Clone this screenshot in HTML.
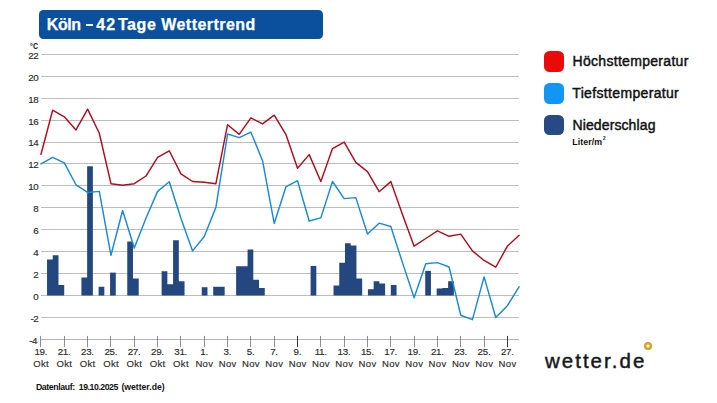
<!DOCTYPE html>
<html><head><meta charset="utf-8"><title>Köln – 42 Tage Wettertrend</title>
<style>
html,body{margin:0;padding:0;background:#fff;}
body{width:717px;height:403px;position:relative;overflow:hidden;font-family:"Liberation Sans",sans-serif;color:#333;}
#title{position:absolute;left:39.1px;top:10px;width:283.9px;height:28.6px;background:#0a509c;border-radius:4.5px;}
svg{position:absolute;left:0;top:0;}
.t{position:absolute;white-space:nowrap;}
.yl{position:absolute;left:10.4px;width:28px;text-align:right;font-size:9.8px;letter-spacing:-0.35px;line-height:11px;color:#2b2b2b;-webkit-text-stroke:0.15px #2b2b2b;}
.xl{position:absolute;top:345.9px;width:30px;text-align:center;font-size:9.5px;line-height:12.4px;color:#2b2b2b;-webkit-text-stroke:0.15px #2b2b2b;}
.mo{letter-spacing:0.35px;margin-right:-0.35px;}
.dy{font-size:9.8px;letter-spacing:-0.3px;margin-right:0.3px;}
.sq{position:absolute;left:544px;width:20.2px;height:20.4px;border-radius:5.5px;}
#dot{position:absolute;left:644.9px;top:342.8px;width:4.6px;height:4.6px;border:1.7px solid #dfa423;border-radius:50%;}
</style></head><body>
<div id="title"></div>
<div style="position:absolute;left:86.3px;top:23.7px;width:6.9px;height:2.2px;background:#fff"></div>
<svg width="717" height="403" viewBox="0 0 717 403">
<line x1="41" x2="519" y1="54.50" y2="54.50" stroke="#bdbdbd" stroke-width="1"/>
<line x1="41" x2="519" y1="76.50" y2="76.50" stroke="#bdbdbd" stroke-width="1"/>
<line x1="41" x2="519" y1="98.50" y2="98.50" stroke="#bdbdbd" stroke-width="1"/>
<line x1="41" x2="519" y1="120.50" y2="120.50" stroke="#bdbdbd" stroke-width="1"/>
<line x1="41" x2="519" y1="142.50" y2="142.50" stroke="#bdbdbd" stroke-width="1"/>
<line x1="41" x2="519" y1="163.50" y2="163.50" stroke="#bdbdbd" stroke-width="1"/>
<line x1="41" x2="519" y1="185.50" y2="185.50" stroke="#bdbdbd" stroke-width="1"/>
<line x1="41" x2="519" y1="207.50" y2="207.50" stroke="#bdbdbd" stroke-width="1"/>
<line x1="41" x2="519" y1="229.50" y2="229.50" stroke="#bdbdbd" stroke-width="1"/>
<line x1="41" x2="519" y1="251.50" y2="251.50" stroke="#bdbdbd" stroke-width="1"/>
<line x1="41" x2="519" y1="273.50" y2="273.50" stroke="#bdbdbd" stroke-width="1"/>
<line x1="41" x2="519" y1="295.50" y2="295.50" stroke="#bdbdbd" stroke-width="1"/>
<line x1="41" x2="519" y1="317.50" y2="317.50" stroke="#bdbdbd" stroke-width="1"/>
<line x1="41" x2="519" y1="339.5" y2="339.5" stroke="#b4b4b4" stroke-width="1"/>
<line x1="40.50" x2="40.50" y1="335.9" y2="347.2" stroke="#5e5e5e" stroke-width="0.7"/>
<line x1="64.50" x2="64.50" y1="335.9" y2="347.2" stroke="#5e5e5e" stroke-width="0.7"/>
<line x1="87.50" x2="87.50" y1="335.9" y2="347.2" stroke="#5e5e5e" stroke-width="0.7"/>
<line x1="110.50" x2="110.50" y1="335.9" y2="347.2" stroke="#5e5e5e" stroke-width="0.7"/>
<line x1="134.50" x2="134.50" y1="335.9" y2="347.2" stroke="#5e5e5e" stroke-width="0.7"/>
<line x1="157.50" x2="157.50" y1="335.9" y2="347.2" stroke="#5e5e5e" stroke-width="0.7"/>
<line x1="180.50" x2="180.50" y1="335.9" y2="347.2" stroke="#5e5e5e" stroke-width="0.7"/>
<line x1="204.50" x2="204.50" y1="335.9" y2="347.2" stroke="#5e5e5e" stroke-width="0.7"/>
<line x1="227.50" x2="227.50" y1="335.9" y2="347.2" stroke="#5e5e5e" stroke-width="0.7"/>
<line x1="250.50" x2="250.50" y1="335.9" y2="347.2" stroke="#5e5e5e" stroke-width="0.7"/>
<line x1="274.50" x2="274.50" y1="335.9" y2="347.2" stroke="#5e5e5e" stroke-width="0.7"/>
<line x1="297.50" x2="297.50" y1="335.9" y2="347.2" stroke="#2e2e2e" stroke-width="0.95"/>
<line x1="320.50" x2="320.50" y1="335.9" y2="347.2" stroke="#5e5e5e" stroke-width="0.7"/>
<line x1="344.50" x2="344.50" y1="335.9" y2="347.2" stroke="#5e5e5e" stroke-width="0.7"/>
<line x1="367.50" x2="367.50" y1="335.9" y2="347.2" stroke="#5e5e5e" stroke-width="0.7"/>
<line x1="390.50" x2="390.50" y1="335.9" y2="347.2" stroke="#5e5e5e" stroke-width="0.7"/>
<line x1="414.50" x2="414.50" y1="335.9" y2="347.2" stroke="#5e5e5e" stroke-width="0.7"/>
<line x1="437.50" x2="437.50" y1="335.9" y2="347.2" stroke="#5e5e5e" stroke-width="0.7"/>
<line x1="460.50" x2="460.50" y1="335.9" y2="347.2" stroke="#5e5e5e" stroke-width="0.7"/>
<line x1="484.50" x2="484.50" y1="335.9" y2="347.2" stroke="#5e5e5e" stroke-width="0.7"/>
<line x1="507.50" x2="507.50" y1="335.9" y2="347.2" stroke="#2e2e2e" stroke-width="0.95"/>
<path d="M47.03,295.53 L47.03,259.56 L52.76,259.56 L52.76,255.29 L58.49,255.29 L58.49,285.00 L64.22,285.00 L64.22,295.53 Z" fill="#24477f"/>
<path d="M81.41,295.53 L81.41,277.44 L87.14,277.44 L87.14,166.14 L92.87,166.14 L92.87,295.53 Z" fill="#24477f"/>
<path d="M98.60,295.53 L98.60,286.76 L104.33,286.76 L104.33,295.53 Z" fill="#24477f"/>
<path d="M110.06,295.53 L110.06,272.61 L115.79,272.61 L115.79,295.53 Z" fill="#24477f"/>
<path d="M127.25,295.53 L127.25,241.47 L132.98,241.47 L132.98,278.42 L138.71,278.42 L138.71,295.53 Z" fill="#24477f"/>
<path d="M161.63,295.53 L161.63,271.19 L167.36,271.19 L167.36,284.24 L173.09,284.24 L173.09,240.16 L178.82,240.16 L178.82,281.28 L184.55,281.28 L184.55,295.53 Z" fill="#24477f"/>
<path d="M201.74,295.53 L201.74,287.20 L207.47,287.20 L207.47,295.53 Z" fill="#24477f"/>
<path d="M213.20,295.53 L213.20,286.76 L218.93,286.76 L218.93,286.76 L224.66,286.76 L224.66,295.53 Z" fill="#24477f"/>
<path d="M236.12,295.53 L236.12,266.14 L241.85,266.14 L241.85,266.14 L247.58,266.14 L247.58,249.48 L253.31,249.48 L253.31,279.74 L259.04,279.74 L259.04,287.96 L264.77,287.96 L264.77,295.53 Z" fill="#24477f"/>
<path d="M310.61,295.53 L310.61,265.92 L316.34,265.92 L316.34,295.53 Z" fill="#24477f"/>
<path d="M333.53,295.53 L333.53,285.44 L339.26,285.44 L339.26,262.85 L344.99,262.85 L344.99,243.23 L350.72,243.23 L350.72,245.42 L356.45,245.42 L356.45,278.42 L362.18,278.42 L362.18,295.53 Z" fill="#24477f"/>
<path d="M367.91,295.53 L367.91,289.28 L373.64,289.28 L373.64,281.28 L379.37,281.28 L379.37,283.47 L385.10,283.47 L385.10,295.53 Z" fill="#24477f"/>
<path d="M390.83,295.53 L390.83,285.00 L396.56,285.00 L396.56,295.53 Z" fill="#24477f"/>
<path d="M425.21,295.53 L425.21,270.86 L430.94,270.86 L430.94,295.53 Z" fill="#24477f"/>
<path d="M436.67,295.53 L436.67,288.51 L442.40,288.51 L442.40,287.96 L448.13,287.96 L448.13,281.28 L453.86,281.28 L453.86,295.53 Z" fill="#24477f"/>
<polyline points="41.00,163.95 52.66,157.37 64.32,162.85 75.98,184.78 87.64,192.46 99.30,191.36 110.96,255.29 122.62,210.55 134.28,247.94 145.94,218.23 157.60,191.36 169.26,181.71 180.92,218.23 192.58,250.90 204.24,236.54 215.90,207.37 227.56,134.02 239.22,137.63 250.88,132.15 262.54,160.66 274.20,223.49 285.86,186.98 297.52,180.73 309.18,220.97 320.84,217.90 332.50,181.49 344.16,198.60 355.82,197.61 367.48,233.91 379.14,223.16 390.80,226.45 402.46,262.63 414.12,297.72 425.78,263.73 437.44,262.63 449.10,267.02 460.76,315.27 472.42,319.65 484.08,276.89 495.74,317.46 507.40,305.73 519.06,286.76" fill="none" stroke="#1a89dc" stroke-width="1.45" stroke-linejoin="round" stroke-linecap="round"/>
<polyline points="41.00,154.30 52.66,110.22 64.32,116.80 75.98,129.96 87.64,109.12 99.30,133.25 110.96,183.69 122.62,185.33 134.28,183.69 145.94,176.01 157.60,157.37 169.26,150.79 180.92,173.82 192.58,181.49 204.24,182.26 215.90,183.69 227.56,124.70 239.22,134.34 250.88,117.90 262.54,123.93 274.20,115.16 285.86,134.34 297.52,168.34 309.18,154.63 320.84,181.49 332.50,148.60 344.16,142.02 355.82,162.31 367.48,171.63 379.14,191.69 390.80,181.60 402.46,214.39 414.12,246.19 425.78,238.51 437.44,230.84 449.10,236.32 460.76,234.13 472.42,250.90 484.08,260.44 495.74,267.24 507.40,246.19 519.06,235.22" fill="none" stroke="#ac0e1e" stroke-width="1.45" stroke-linejoin="round" stroke-linecap="round"/>
<circle cx="648" cy="345.9" r="2.85" fill="none" stroke="#d6a01a" stroke-width="2.3"/>
</svg>
<div class="yl" style="top:49.7px">22</div>
<div class="yl" style="top:71.6px">20</div>
<div class="yl" style="top:93.6px">18</div>
<div class="yl" style="top:115.5px">16</div>
<div class="yl" style="top:137.4px">14</div>
<div class="yl" style="top:159.3px">12</div>
<div class="yl" style="top:181.3px">10</div>
<div class="yl" style="top:203.2px">8</div>
<div class="yl" style="top:225.1px">6</div>
<div class="yl" style="top:247.1px">4</div>
<div class="yl" style="top:269.0px">2</div>
<div class="yl" style="top:290.9px">0</div>
<div class="yl" style="top:312.9px">-2</div>
<div class="yl" style="left:9.2px;top:335.4px">-4</div>
<div class="xl" style="left:25.9px"><span class="dy">19.</span><br><span class="mo">Okt</span></div>
<div class="xl" style="left:49.2px"><span class="dy">21.</span><br><span class="mo">Okt</span></div>
<div class="xl" style="left:72.5px"><span class="dy">23.</span><br><span class="mo">Okt</span></div>
<div class="xl" style="left:95.9px"><span class="dy">25.</span><br><span class="mo">Okt</span></div>
<div class="xl" style="left:119.2px"><span class="dy">27.</span><br><span class="mo">Okt</span></div>
<div class="xl" style="left:142.5px"><span class="dy">29.</span><br><span class="mo">Okt</span></div>
<div class="xl" style="left:165.8px"><span class="dy">31.</span><br><span class="mo">Okt</span></div>
<div class="xl" style="left:189.2px"><span class="dy">1.</span><br><span class="mo">Nov</span></div>
<div class="xl" style="left:212.5px"><span class="dy">3.</span><br><span class="mo">Nov</span></div>
<div class="xl" style="left:235.8px"><span class="dy">5.</span><br><span class="mo">Nov</span></div>
<div class="xl" style="left:259.1px"><span class="dy">7.</span><br><span class="mo">Nov</span></div>
<div class="xl" style="left:282.5px"><span class="dy">9.</span><br><span class="mo">Nov</span></div>
<div class="xl" style="left:305.8px"><span class="dy">11.</span><br><span class="mo">Nov</span></div>
<div class="xl" style="left:329.1px"><span class="dy">13.</span><br><span class="mo">Nov</span></div>
<div class="xl" style="left:352.4px"><span class="dy">15.</span><br><span class="mo">Nov</span></div>
<div class="xl" style="left:375.8px"><span class="dy">17.</span><br><span class="mo">Nov</span></div>
<div class="xl" style="left:399.1px"><span class="dy">19.</span><br><span class="mo">Nov</span></div>
<div class="xl" style="left:422.4px"><span class="dy">21.</span><br><span class="mo">Nov</span></div>
<div class="xl" style="left:445.7px"><span class="dy">23.</span><br><span class="mo">Nov</span></div>
<div class="xl" style="left:469.1px"><span class="dy">25.</span><br><span class="mo">Nov</span></div>
<div class="xl" style="left:492.4px"><span class="dy">27.</span><br><span class="mo">Nov</span></div>
<div class="sq" style="top:51.3px;background:#ea0a0a"></div>
<div class="sq" style="top:83.2px;background:#1296f3"></div>
<div class="sq" style="top:115px;background:#284a84"></div>
<div class="t" style="left:46.80px;top:14.66px;font-size:16px;line-height:19.2px;letter-spacing:-0.440px;color:#fff;font-weight:bold;-webkit-text-stroke:0.25px #fff;">Köln</div>
<div class="t" style="left:96.20px;top:14.66px;font-size:16px;line-height:19.2px;letter-spacing:1.040px;color:#fff;font-weight:bold;-webkit-text-stroke:0.25px #fff;">42</div>
<div class="t" style="left:117.90px;top:14.66px;font-size:16px;line-height:19.2px;letter-spacing:0.580px;color:#fff;font-weight:bold;-webkit-text-stroke:0.25px #fff;">Tage</div>
<div class="t" style="left:161.20px;top:14.66px;font-size:16px;line-height:19.2px;letter-spacing:0.468px;color:#fff;font-weight:bold;-webkit-text-stroke:0.25px #fff;">Wettertrend</div>
<div class="t" style="left:572.50px;top:52.95px;font-size:14px;line-height:16.8px;letter-spacing:0.307px;color:#111;-webkit-text-stroke:0.45px #111;">Höchsttemperatur</div>
<div class="t" style="left:572.30px;top:85.25px;font-size:14px;line-height:16.8px;letter-spacing:0.338px;color:#111;-webkit-text-stroke:0.45px #111;">Tiefsttemperatur</div>
<div class="t" style="left:572.50px;top:116.95px;font-size:14px;line-height:16.8px;letter-spacing:0.110px;color:#111;-webkit-text-stroke:0.45px #111;">Niederschlag</div>
<div class="t" style="left:572.20px;top:136.57px;font-size:8.8px;line-height:10.56px;letter-spacing:0.075px;color:#111;font-weight:bold;">Liter/m</div>
<div class="t" style="left:603.10px;top:136.05px;font-size:4.6px;line-height:5.52px;letter-spacing:0.000px;color:#111;font-weight:bold;">2</div>
<div class="t" style="left:544.90px;top:348.80px;font-size:20.5px;line-height:24.6px;letter-spacing:2.033px;color:#15181c;-webkit-text-stroke:0.45px #15181c;">wetter.de</div>
<div class="t" style="left:35.90px;top:381.97px;font-size:8.7px;line-height:10.44px;letter-spacing:-0.349px;color:#111;font-weight:bold;">Datenlauf:</div>
<div class="t" style="left:78.80px;top:381.97px;font-size:8.7px;line-height:10.44px;letter-spacing:-0.449px;color:#111;font-weight:bold;">19.10.2025</div>
<div class="t" style="left:121.40px;top:381.97px;font-size:8.7px;line-height:10.44px;letter-spacing:-0.020px;color:#111;font-weight:bold;">(wetter.de)</div>
<div class="t" style="left:29.6px;top:40.8px;font-size:9px;line-height:11px;font-weight:bold;color:#111;transform:scaleX(0.8);transform-origin:0 0;">°C</div>
</body></html>
